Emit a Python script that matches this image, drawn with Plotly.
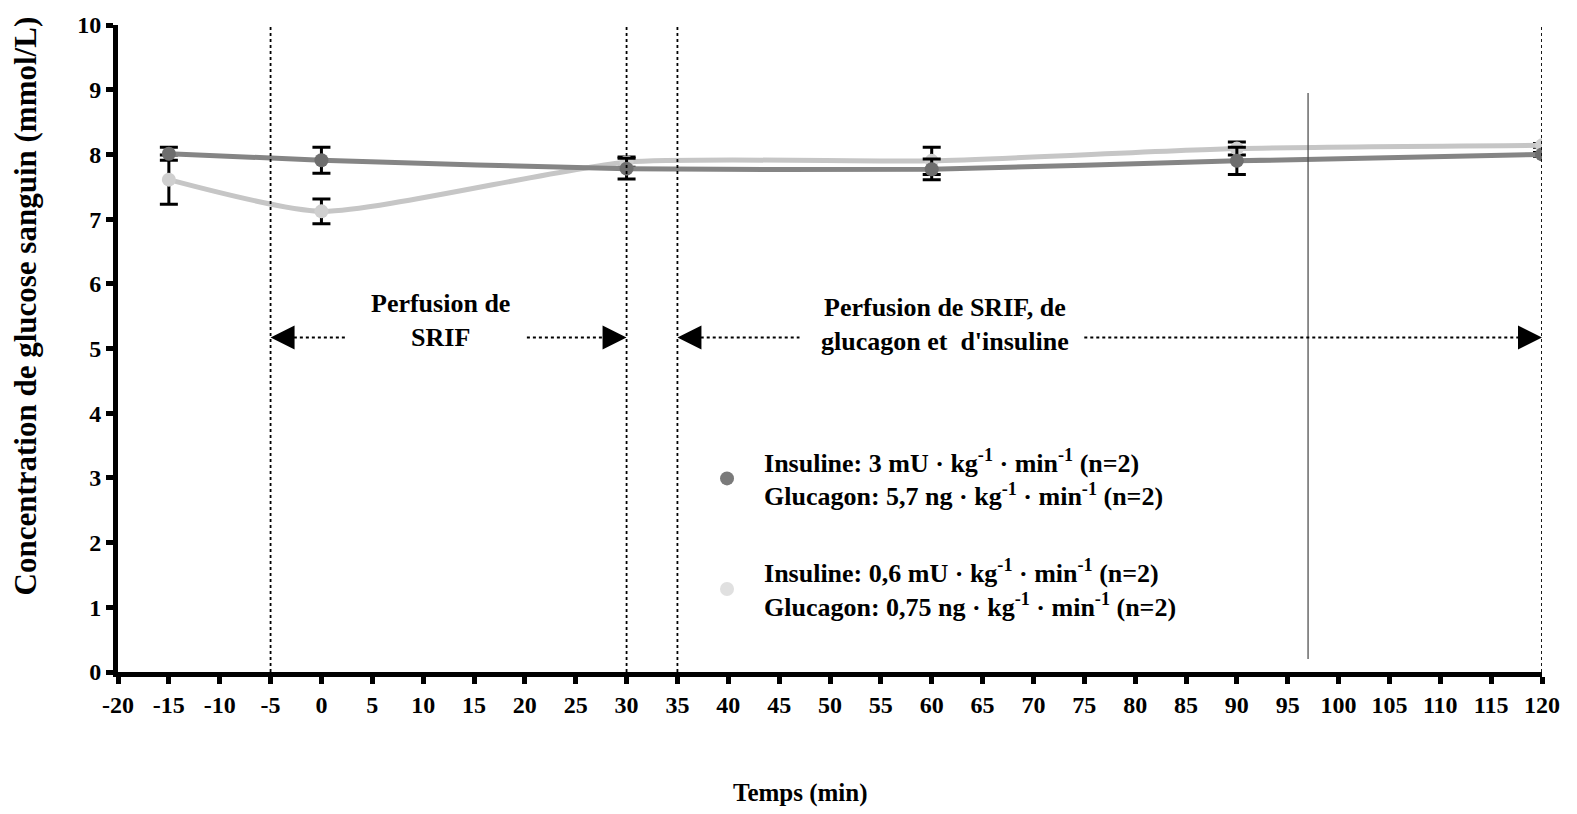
import plotly.graph_objects as go

# ---- data ----
time_min = [-15, 0, 30, 60, 90, 120]
glucose_high = [8.01, 7.91, 7.78, 7.77, 7.90, 8.00]
err_high = [0.10, 0.20, 0.16, 0.16, 0.21, 0.03]
glucose_low = [7.61, 7.12, 7.88, 7.90, 8.09, 8.14]
err_low = [0.38, 0.19, 0.08, 0.21, 0.10, 0.03]

x_ticks = list(range(-20, 125, 5))
y_ticks = list(range(0, 11, 1))

name_high = ("<b>Insuline: 3 mU · kg<sup>-1</sup> · min<sup>-1</sup> (n=2)<br>"
             "Glucagon: 5,7 ng · kg<sup>-1</sup> · min<sup>-1</sup> (n=2)</b>")
name_low = ("<b>Insuline: 0,6 mU · kg<sup>-1</sup> · min<sup>-1</sup> (n=2)<br>"
            "Glucagon: 0,75 ng · kg<sup>-1</sup> · min<sup>-1</sup> (n=2)</b>")

phase_bounds = [-5, 30, 35, 120]
phase1 = (-5, 30)
phase2 = (35, 120)
phase1_label = "<b>Perfusion de<br>SRIF</b>"
phase2_label = "<b>Perfusion de SRIF, de<br>glucagon et  d'insuline</b>"

FONT = "Liberation Serif"
DARK_LINE = "#858585"
DARK_MARK = "#6e6e6e"
LIGHT_LINE = "#c6c6c6"
LIGHT_MARK = "#cfcfcf"

fig = go.Figure()

for y, e, lc, mc in [(glucose_low, err_low, LIGHT_LINE, LIGHT_MARK),
                     (glucose_high, err_high, DARK_LINE, DARK_MARK)]:
    fig.add_trace(go.Scatter(
        x=time_min, y=y, mode="lines+markers",
        line=dict(color=lc, width=5, shape="spline", smoothing=0.6),
        marker=dict(color=mc, size=14, symbol="circle"),
        error_y=dict(type="data", array=e, visible=True, color="black",
                     thickness=3, width=9),
        showlegend=False,
    ))

# legend entries (marker only)
fig.add_trace(go.Scatter(x=[None], y=[None], mode="markers", name=name_high,
                         marker=dict(color="#7a7a7a", size=14), legendgroup="a"))
fig.add_trace(go.Scatter(x=[None], y=[None], mode="markers", name=name_low,
                         marker=dict(color="#e0e0e0", size=14), legendgroup="b"))

shapes = []
for b in phase_bounds:
    shapes.append(dict(type="line", xref="x", yref="y", x0=b, x1=b, y0=0, y1=10,
                       line=dict(color="black", width=1.8, dash="dot")))
# thin solid vertical line present in the original
shapes.append(dict(type="line", xref="x", yref="y", x0=97, x1=97, y0=0.2, y1=8.95,
                   line=dict(color="#444", width=1.2)))

arrow_y = 5.17
for (a, b) in [(phase1[0] + 1.7, 2.6), (20.2, phase1[1] - 1.9),
               (phase2[0] + 1.7, 47), (75, phase2[1] - 1.9)]:
    shapes.append(dict(type="line", xref="x", yref="y", x0=a, x1=b,
                       y0=arrow_y, y1=arrow_y,
                       line=dict(color="black", width=1.8, dash="dot")))

annotations = []
for tip, tail in [(phase1[0], phase1[0] + 1.8), (phase1[1], phase1[1] - 1.8),
                  (phase2[0], phase2[0] + 1.8), (phase2[1], phase2[1] - 1.8)]:
    annotations.append(dict(x=tip, y=arrow_y, ax=tail, ay=arrow_y, axref="x", ayref="y",
                            xref="x", yref="y", text="", showarrow=True,
                            arrowhead=2, arrowsize=2.4, arrowwidth=2,
                            arrowcolor="black", standoff=0, startstandoff=0))

annotations.append(dict(x=11.7, y=5.43, xref="x", yref="y", text=phase1_label,
                        xanchor="center", yanchor="middle",
                        showarrow=False, font=dict(family=FONT, size=26, color="black")))
annotations.append(dict(x=61.3, y=5.37, xref="x", yref="y", text=phase2_label,
                        xanchor="center", yanchor="middle",
                        showarrow=False, font=dict(family=FONT, size=26, color="black")))

annotations.append(dict(x=0.479, y=-0.187, xref="paper", yref="paper", text="<b>Temps (min)</b>",
                        xanchor="center", yanchor="middle",
                        showarrow=False, font=dict(family=FONT, size=25, color="black")))
annotations.append(dict(x=-0.0653, y=0.565, xref="paper", yref="paper",
                        text="<b>Concentration de glucose sanguin (mmol/L)</b>", textangle=-90,
                        xanchor="center", yanchor="middle",
                        showarrow=False, font=dict(family=FONT, size=31, color="black")))

x_ticktext = ["<b>%d</b>" % v for v in x_ticks]
y_ticktext = ["<b>%d</b>" % v for v in y_ticks]

fig.update_layout(
    width=1577, height=814,
    margin=dict(l=118, r=35, t=17, b=142),
    paper_bgcolor="white", plot_bgcolor="white",
    font=dict(family=FONT, color="black"),
    shapes=shapes, annotations=annotations,
    showlegend=True,
    legend=dict(x=0.4017, y=0.3615, xanchor="left", yanchor="top",
                font=dict(family=FONT, size=26, color="black"),
                tracegroupgap=40, bgcolor="rgba(0,0,0,0)", itemwidth=64),
    xaxis=dict(range=[-20, 120], tickvals=x_ticks, ticktext=x_ticktext,
               showgrid=False, zeroline=False, showline=True, linecolor="black", linewidth=5,
               ticks="outside", ticklen=7, tickwidth=5, tickcolor="black",
               tickfont=dict(family=FONT, size=24, color="black")),
    yaxis=dict(range=[0, 10], tickvals=y_ticks, ticktext=y_ticktext,
               showgrid=False, zeroline=False, showline=True, linecolor="black", linewidth=5,
               ticks="outside", ticklen=7, tickwidth=5, tickcolor="black",
               tickfont=dict(family=FONT, size=24, color="black")),
)

fig.write_html("out.html")
